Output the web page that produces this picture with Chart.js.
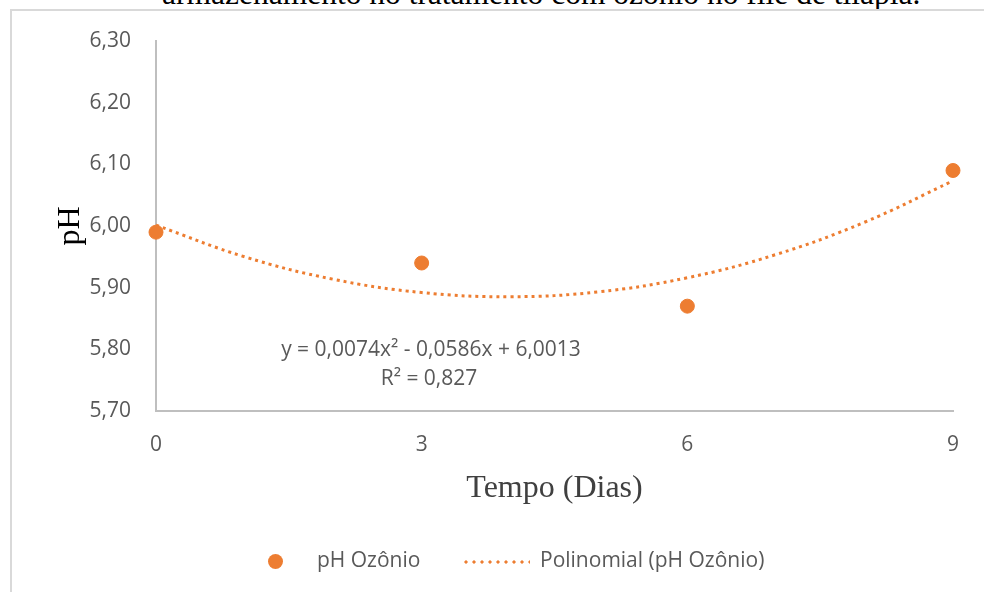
<!DOCTYPE html>
<html>

<head>
    <title>pH Ozônio</title>
    <script src="https://cdn.jsdelivr.net/npm/chart.js"></script>
    <style>
        body { margin: 0; background: #fff; overflow: hidden; }
        #wrap { position: relative; width: 984px; height: 592px; overflow: hidden; }
        #box { position: absolute; left: 10px; top: 9px; width: 1000px; height: 600px; border-left: 2px solid #d9d9d9; border-top: 2px solid #d9d9d9; }
        #doc { position: absolute; left: 162px; top: -21px; font: 31.5px "Liberation Serif", serif; color: #000; white-space: nowrap; line-height: 30px; }
        #myChart { position: absolute; left: 0; top: 0; }
        .eq { position: absolute; font: 21px "Open Sans", sans-serif; color: #595959; white-space: nowrap; transform: translateX(-50%); }
        .leg { position: absolute; font: 21px "Open Sans", sans-serif; color: #595959; white-space: nowrap; }
        .dot { position: absolute; width: 15px; height: 15px; border-radius: 50%; background: #ED7D31; }
        .dash { position: absolute; height: 4px; background: radial-gradient(circle, #ED7D31 1.4px, transparent 1.8px) 0 0 / 8px 4px repeat-x; }
    </style>
</head>

<body>
    <div id="wrap">
        <div id="doc">armazenamento no tratamento com ozônio no filé de tilápia.</div>
        <div id="box"></div>
        <canvas id="myChart" width="984" height="592"></canvas>
        <div class="eq" style="left:431px; top:334px">y = 0,0074x² - 0,0586x + 6,0013</div>
        <div class="eq" style="left:429px; top:363px">R² = 0,827</div>
        <div class="dot" style="left:268px; top:554px"></div>
        <div class="leg" style="left:317px; top:545px">pH Ozônio</div>
        <div class="dash" style="left:462px; top:560px; width:68px"></div>
        <div class="leg" style="left:540px; top:545px">Polinomial (pH Ozônio)</div>
    </div>
    <script>
        // measured points
        const days = [0, 3, 6, 9];
        const phOzonio = [5.99, 5.94, 5.87, 6.09];
        // polynomial trend (from the equation shown on the chart)
        const trendDays = [0, 1, 2, 3, 4, 5, 6, 7, 8, 9];
        const trendPh = [6.0013, 5.9501, 5.9137, 5.8921, 5.8853, 5.8933, 5.9161, 5.9537, 6.0061, 6.0733];
        const xTicks = [0, 3, 6, 9];
        const yMin = 5.70, yMax = 6.30, yStep = 0.10;

        const orange = '#ED7D31';
        const grey = '#595959';

        const config = {
            type: 'scatter',
            data: {
                datasets: [{
                    label: 'pH Ozônio',
                    data: days.map((d, i) => ({ x: d, y: phOzonio[i] })),
                    backgroundColor: orange,
                    borderColor: orange,
                    pointRadius: 7,
                    pointHoverRadius: 7,
                    clip: false,
                    order: 0
                }, {
                    type: 'line',
                    label: 'Polinomial (pH Ozônio)',
                    data: trendDays.map((d, i) => ({ x: d, y: trendPh[i] })),
                    borderColor: orange,
                    borderWidth: 3,
                    borderDash: [3, 4],
                    pointRadius: 0,
                    tension: 0.4,
                    fill: false,
                    clip: false,
                    order: 1
                }]
            },
            options: {
                responsive: false,
                devicePixelRatio: 1,
                animation: false,
                layout: { padding: { left: 0, right: 31, top: 41, bottom: 81 } },
                plugins: {
                    legend: { display: false },
                    tooltip: { enabled: false }
                },
                scales: {
                    x: {
                        type: 'linear',
                        min: 0,
                        max: 9,
                        afterBuildTicks: s => { s.ticks = xTicks.map(v => ({ value: v })); },
                        afterFit: s => { s.height = 100; },
                        grid: { display: false },
                        border: { display: true, color: '#bfbfbf', width: 2 },
                        ticks: { padding: 13, color: grey, font: { family: 'Open Sans', size: 21 } },
                        title: {
                            display: true,
                            text: 'Tempo (Dias)',
                            color: '#404040',
                            font: { family: 'Liberation Serif', size: 32 },
                            padding: { top: 0, bottom: 3 }
                        }
                    },
                    y: {
                        min: yMin,
                        max: yMax,
                        afterFit: s => { s.width = 156; },
                        grid: { display: false },
                        border: { display: true, color: '#bfbfbf', width: 2 },
                        ticks: {
                            stepSize: yStep,
                            padding: 17,
                            color: grey,
                            font: { family: 'Open Sans', size: 21 },
                            callback: v => v.toFixed(2).replace('.', ',')
                        },
                        title: {
                            display: true,
                            text: 'pH',
                            color: '#000',
                            font: { family: 'Liberation Serif', size: 32 },
                            padding: { top: 51, bottom: 0 }
                        }
                    }
                }
            }
        };

        var myChart = new Chart(document.getElementById('myChart'), config);
    </script>
</body>

</html>
